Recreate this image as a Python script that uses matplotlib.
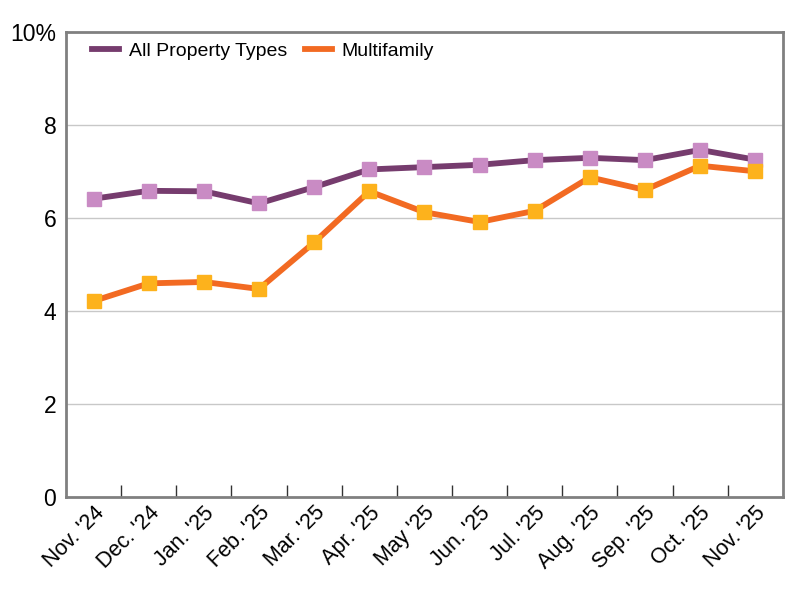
import numpy as np
import matplotlib
matplotlib.use('Agg')
import matplotlib.pyplot as plt
from matplotlib.lines import Line2D

plt.rcParams['font.family'] = ['Liberation Sans', 'DejaVu Sans']

months = ["Nov. '24", "Dec. '24", "Jan. '25", "Feb. '25", "Mar. '25", "Apr. '25", "May '25",
          "Jun. '25", "Jul. '25", "Aug. '25", "Sep. '25", "Oct. '25", "Nov. '25"]
all_types = [6.41, 6.58, 6.57, 6.31, 6.66, 7.04, 7.09, 7.14, 7.24, 7.29, 7.24, 7.46, 7.25]
multifamily = [4.21, 4.59, 4.62, 4.47, 5.47, 6.57, 6.12, 5.91, 6.15, 6.87, 6.60, 7.12, 7.00]
y_ticks = [0, 2, 4, 6, 8, 10]
y_labels = ['0', '2', '4', '6', '8', '10%']


def main():
    fig = plt.figure(figsize=(8, 6), dpi=100)
    ax = fig.add_axes([0.0825, 0.172, 0.896, 0.775])
    x = np.arange(len(months))

    ax.plot(x, all_types, color='#763C6E', lw=4.2, marker='s', ms=10,
            mfc='#C98BC4', mec='#C98BC4', zorder=3)
    ax.plot(x, multifamily, color='#F26A22', lw=4.2, marker='s', ms=10,
            mfc='#FDB21C', mec='#FDB21C', zorder=3)

    ax.set_xlim(-0.5, 12.5)
    ax.set_ylim(0, 10)
    ax.set_yticks(y_ticks)
    ax.set_yticklabels(y_labels, fontsize=16.5)
    ax.tick_params(axis='y', length=0, pad=7)
    for t in y_ticks[1:-1]:
        ax.axhline(t, color='#C8C8C8', lw=1, zorder=1)

    # month labels at points, tick marks between months
    ax.set_xticks(x)
    ax.set_xticklabels(months, rotation=45, ha='right', rotation_mode='anchor', fontsize=15.5)
    ax.tick_params(axis='x', which='major', length=0, pad=4)
    ax.set_xticks(x[:-1] + 0.5, minor=True)
    ax.tick_params(axis='x', which='minor', direction='in', length=9, width=1, color='#333333')

    for s in ax.spines.values():
        s.set_color('#808080')
        s.set_linewidth(2)

    handles = [Line2D([], [], color='#763C6E', lw=4.2),
               Line2D([], [], color='#F26A22', lw=4.2)]
    ax.legend(handles, ['All Property Types', 'Multifamily'], loc='upper left', ncol=2,
              frameon=False, fontsize=14, handlelength=1.4, handletextpad=0.5,
              columnspacing=0.9, bbox_to_anchor=(0.012, 1.015))

    fig.savefig('out.png', dpi=100)


if __name__ == "__main__":
    main()
